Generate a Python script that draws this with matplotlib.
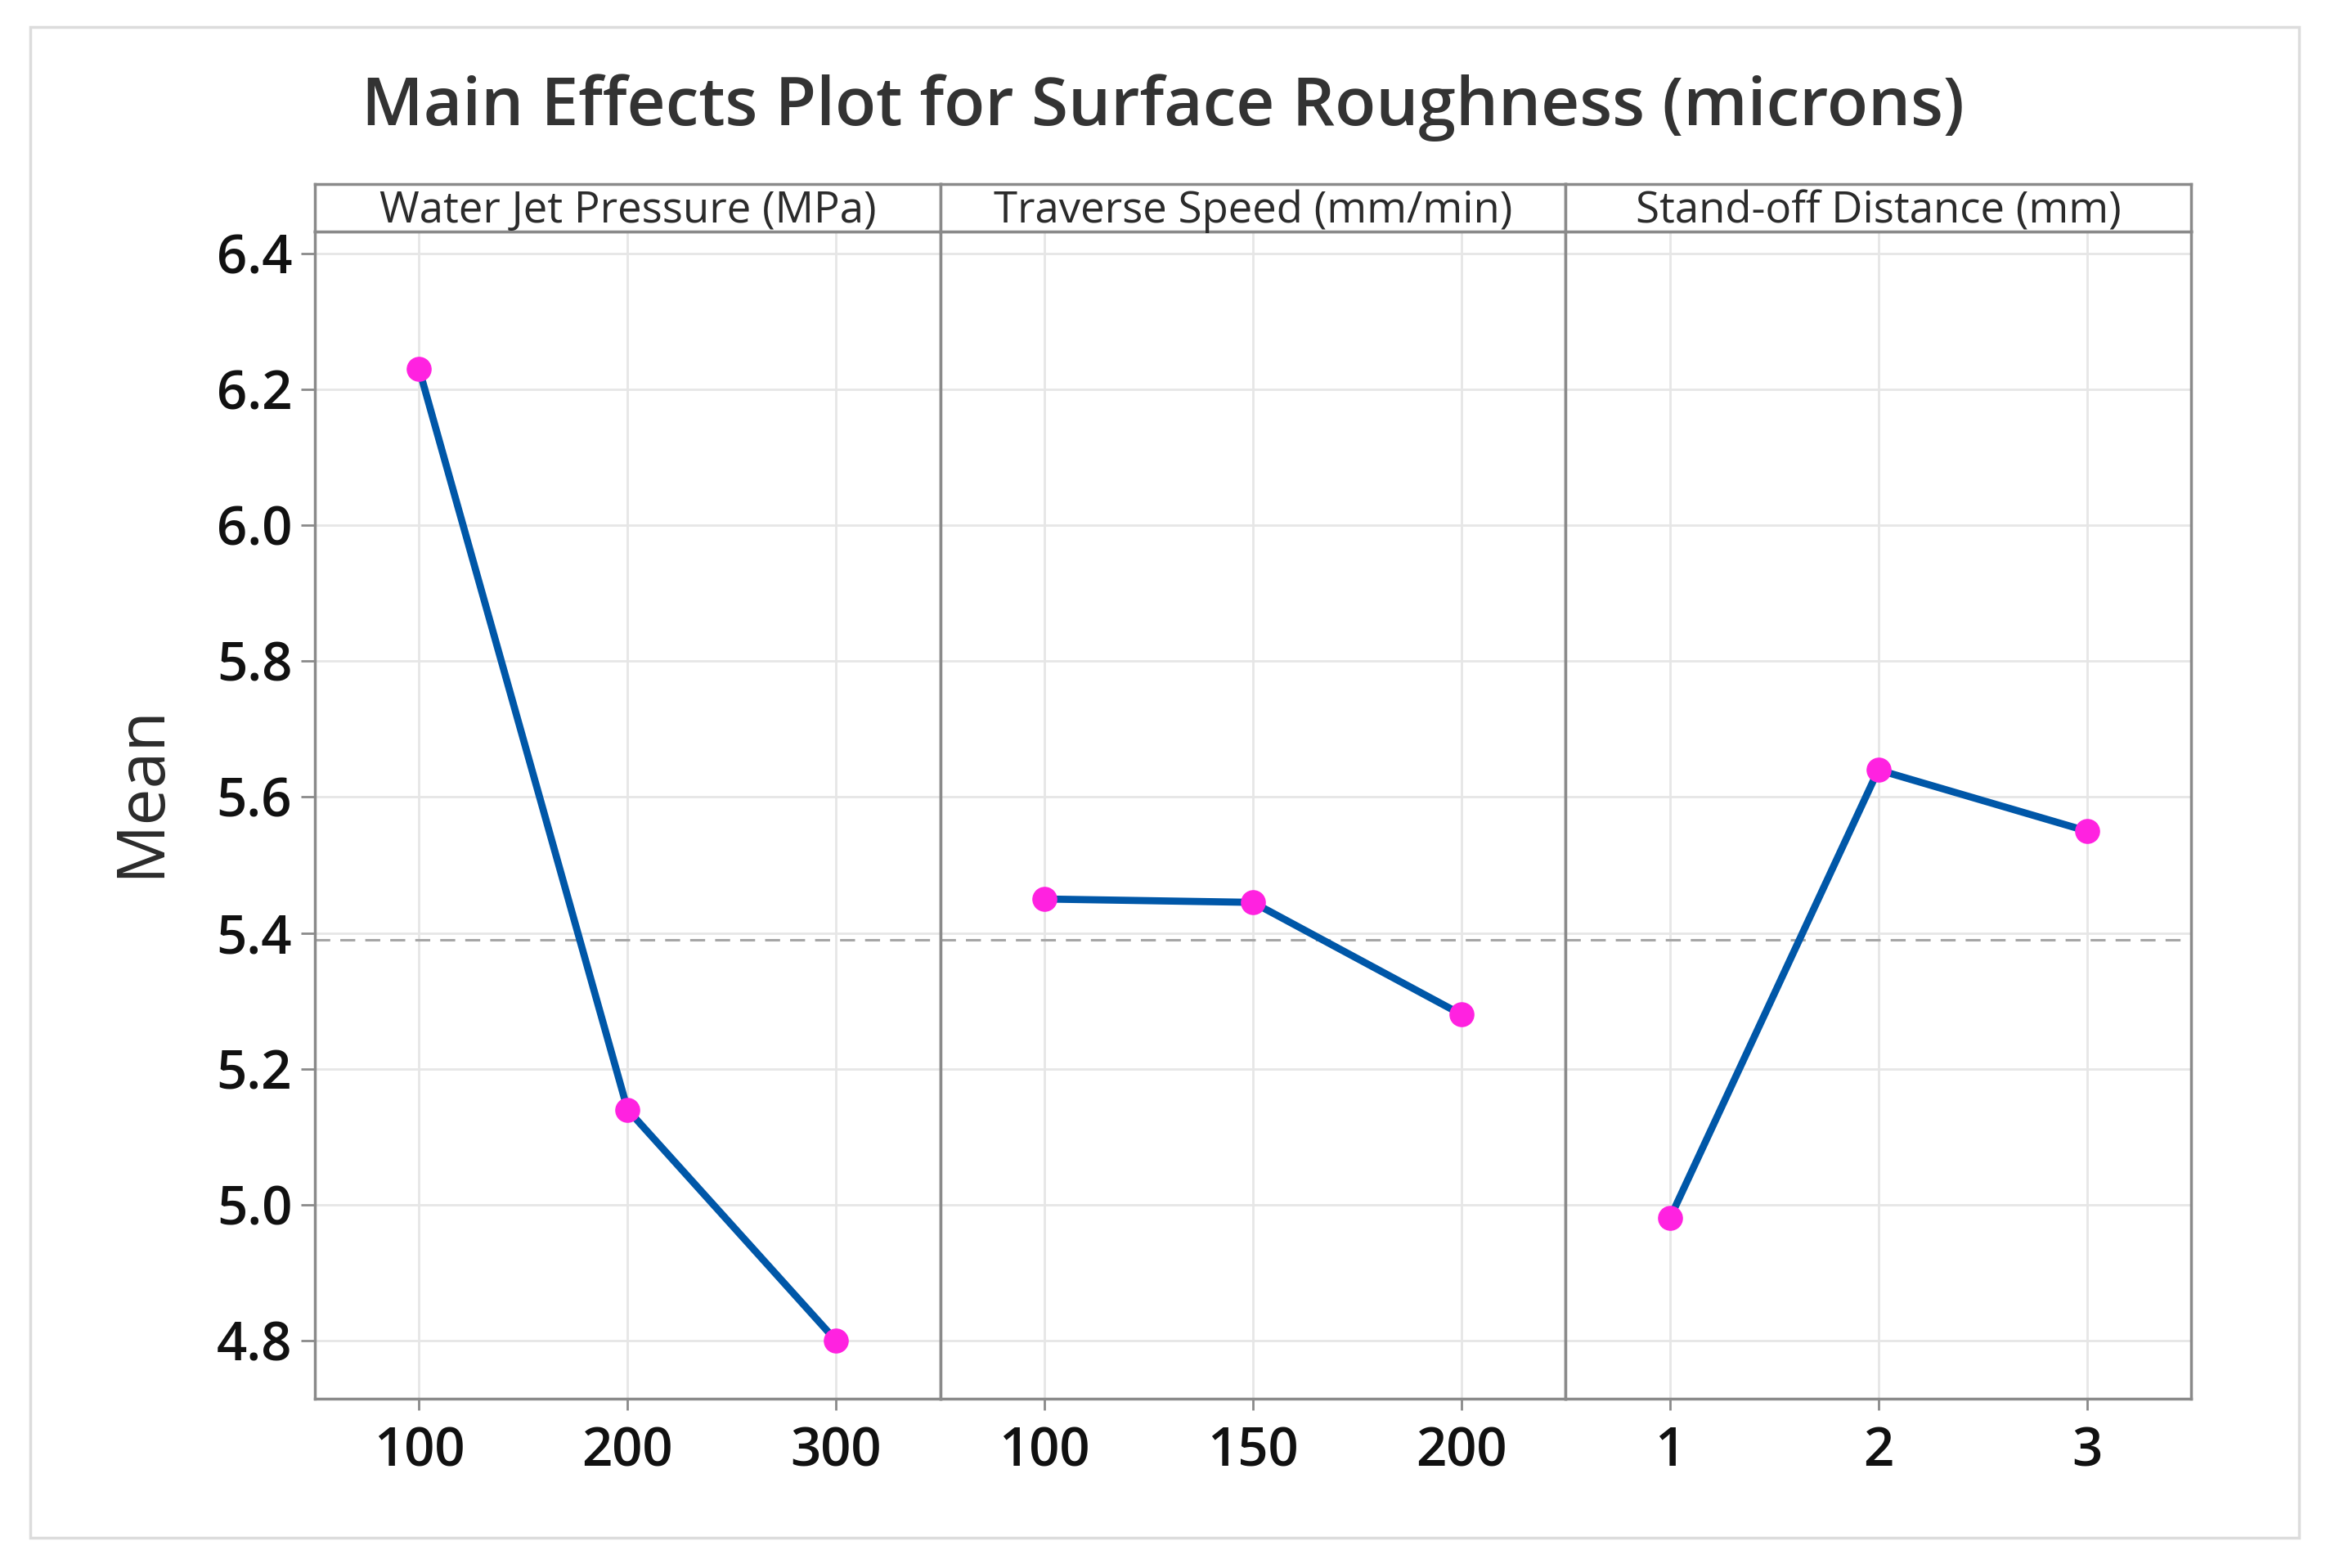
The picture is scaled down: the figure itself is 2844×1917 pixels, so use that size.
import matplotlib
matplotlib.use("Agg")
import matplotlib.pyplot as plt
from matplotlib.patches import Rectangle

plt.rcParams["font.family"] = ["Open Sans", "DejaVu Sans"]

# Data
factors = ["Water Jet Pressure (MPa)", "Traverse Speed (mm/min)", "Stand-off Distance (mm)"]
wjp_levels = ["100", "200", "300"]
ts_levels = ["100", "150", "200"]
sod_levels = ["1", "2", "3"]
wjp_means = [6.23, 5.14, 4.80]
ts_means = [5.45, 5.445, 5.28]
sod_means = [4.98, 5.64, 5.55]
grand_mean = 5.39
yticks = [4.8, 5.0, 5.2, 5.4, 5.6, 5.8, 6.0, 6.2, 6.4]

levels = [wjp_levels, ts_levels, sod_levels]
means = [wjp_means, ts_means, sod_means]

W, H = 2844, 1917
fig = plt.figure(figsize=(W / 100, H / 100), dpi=100)

line_color = "#0057a8"
marker_color = "#ff22e0"
frame_color = "#8a8a8a"
grid_color = "#e6e6e6"

# panel geometry in pixels
left = 385
right = 2679
top_plot = 283
top_head = 225
bottom = 1710
pw = (right - left) / 3

for i in range(3):
    x0 = (left + i * pw) / W
    ax = fig.add_axes([x0, 1 - bottom / H, pw / W, (bottom - top_plot) / H])
    hx = fig.add_axes([x0, 1 - top_plot / H, pw / W, (top_plot - top_head) / H])

    xs = list(range(1, len(levels[i]) + 1))
    ax.axhline(grand_mean, color="#a6a6a6", lw=2.2, ls=(0, (6, 4)), zorder=2)
    ax.plot(xs, means[i], color=line_color, lw=6.3, zorder=3)
    ax.plot(xs, means[i], ls="none", marker="o", ms=21, color=marker_color, zorder=4)

    ax.set_xlim(0.5, 3.5)
    ax.set_ylim(4.7145, 6.4325)
    ax.set_xticks(xs)
    ax.set_xticklabels(levels[i], fontsize=47, fontweight="semibold", color="#111111")
    ax.set_yticks(yticks)
    ax.grid(True, color=grid_color, lw=2)
    ax.set_axisbelow(True)
    ax.tick_params(axis="x", length=10, width=2, color=frame_color, pad=14)
    if i == 0:
        ax.set_yticklabels([f"{v:.1f}" for v in yticks], fontsize=47,
                           fontweight="semibold", color="#111111")
        ax.tick_params(axis="y", length=12, width=2, color=frame_color, pad=8)
    else:
        ax.tick_params(axis="y", left=False, labelleft=False)
    for s in ax.spines.values():
        s.set_color(frame_color)
        s.set_linewidth(2.5)

    hx.set_xticks([])
    hx.set_yticks([])
    for s in hx.spines.values():
        s.set_color(frame_color)
        s.set_linewidth(2.5)
    hx.text(0.5, 0.42, factors[i], ha="center", va="center", fontsize=38,
            color="#2b2b2b", transform=hx.transAxes)

fig.text(173 / W, 1 - 967 / H, "Mean", rotation=90, ha="center", va="center",
         fontsize=58, color="#2b2b2b")
fig.text(0.5, 1 - 132 / H, "Main Effects Plot for Surface Roughness (microns)",
         ha="center", va="center", fontsize=59, fontweight="semibold", color="#333333")

fig.patches.append(Rectangle((37 / W, 1 - 1880 / H), (2811 - 37) / W, (1880 - 33) / H,
                             transform=fig.transFigure, fill=False,
                             edgecolor="#dcdcdc", lw=2.5))

fig.savefig("out.png", dpi=100, facecolor="white")
